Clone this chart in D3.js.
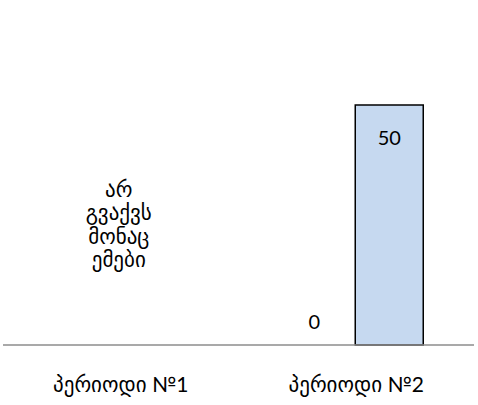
<!DOCTYPE html>
<html><head><meta charset="utf-8">
<script src="https://cdn.jsdelivr.net/npm/d3@7"></script>
<style>body{margin:0;background:#fff}svg{display:block}</style>
</head><body>
<svg id="c" width="478" height="405"></svg>
<script>
const categories = ["პერიოდი №1", "პერიოდი №2"];
const seriesNames = ["s1", "s2"];
const series1 = [null, 0];
const series2 = [null, 50];
const noDataText = ["არ", "გვაქვს", "მონაც", "ემები"];
const yDomain = [0, 60];

const svg = d3.select("#c");
const font = "Lato, 'DejaVu Sans', sans-serif";
const x0 = d3.scaleBand().domain(categories).range([3, 474]);
const y = d3.scaleLinear().domain(yDomain).range([345, 57]);

const barW = 68;
const data = categories.map((c, i) => ({ c, vals: [series1[i], series2[i]] }));

data.forEach(d => {
  const cx = x0(d.c) + x0.bandwidth() / 2;
  d.vals.forEach((v, j) => {
    if (v === null) return;
    const left = cx - barW + j * barW - 1;
    if (v > 0) {
      svg.append("rect")
        .attr("x", left).attr("y", y(v))
        .attr("width", barW).attr("height", y(0) - y(v))
        .attr("fill", "#c6d9f0").attr("stroke", "#000").attr("stroke-width", 1.5);
      svg.append("text").attr("x", left + barW / 2).attr("y", y(v) + 40)
        .attr("text-anchor", "middle").attr("font-family", font).attr("font-size", 20)
        .attr("fill", "#000").text(v);
    } else {
      svg.append("text").attr("x", left + barW / 2 - 7).attr("y", y(v) - 16)
        .attr("text-anchor", "middle").attr("font-family", font).attr("font-size", 20)
        .attr("fill", "#000").text(v);
    }
  });
});

// no data annotation for category 1
const c1 = x0(categories[0]) + x0.bandwidth() / 2;
svg.append("text").attr("text-anchor", "middle").attr("font-family", font)
  .attr("font-size", 21).attr("fill", "#000")
  .selectAll("tspan").data(noDataText).join("tspan")
  .attr("x", c1 - 2).attr("y", (d, i) => 197 + i * 23.4).text(d => d);

// baseline axis
svg.append("line").attr("x1", 3).attr("x2", 474).attr("y1", y(0)).attr("y2", y(0))
  .attr("stroke", "#8c8c8c").attr("stroke-width", 1.5);

// category labels
svg.selectAll(".cat").data(categories).join("text")
  .attr("x", d => x0(d) + x0.bandwidth() / 2)
  .attr("y", 392).attr("text-anchor", "middle")
  .attr("font-family", font).attr("font-size", 21).attr("fill", "#000")
  .text(d => d);
</script>
</body></html>
